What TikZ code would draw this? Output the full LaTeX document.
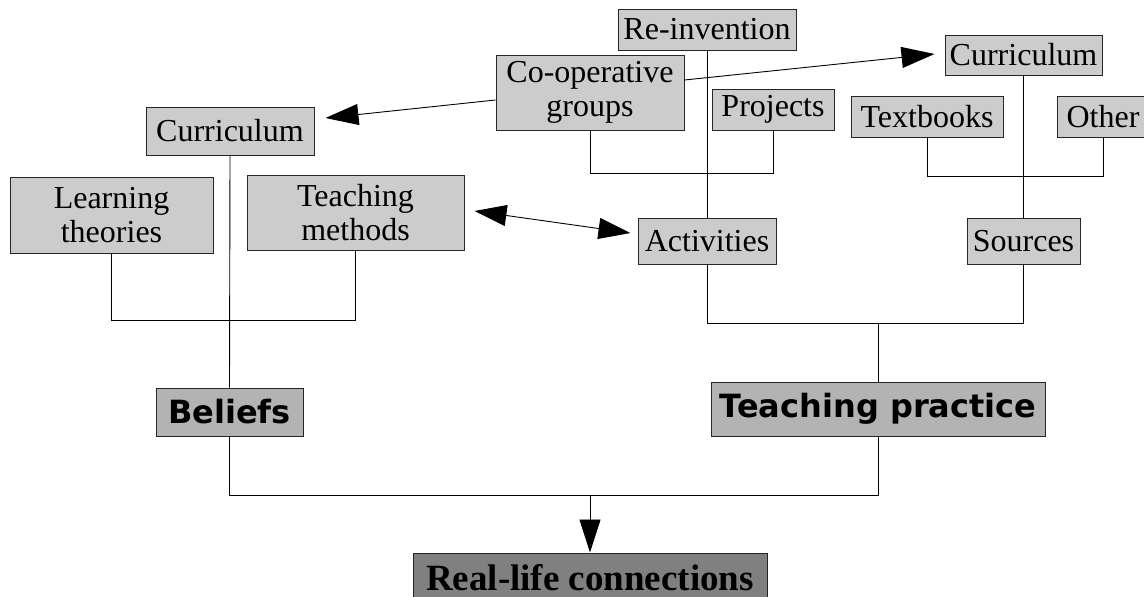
\documentclass[tikz,border=0pt]{standalone}
\usepackage{fontspec}
\setmainfont{Liberation Serif}
\newfontfamily\heavysans{DejaVu Sans}
\usetikzlibrary{arrows.meta}
\definecolor{boxlight}{HTML}{CCCCCC}
\definecolor{boxmid}{HTML}{B3B3B3}
\definecolor{boxdark}{HTML}{808080}
\begin{document}
\begin{tikzpicture}[x=1pt,y=-1pt,
  box/.style={draw=black!85, line width=1pt, fill=boxlight, inner sep=0pt, align=center,
    font=\fontsize{32}{34}\selectfont},
  midbox/.style={box, fill=boxmid, font=\heavysans\bfseries\fontsize{32}{36}\selectfont},
  darkbox/.style={box, fill=boxdark, font=\bfseries\fontsize{37}{40}\selectfont},
  conn/.style={draw=black, line width=0.9pt},
  bigarrow/.style={conn, -{Triangle[length=33pt,width=21pt]}},
  dblarrow/.style={conn, {Triangle[length=32pt,width=21pt]}-{Triangle[length=32pt,width=21pt]}}
]
\useasboundingbox (0,0) rectangle (1144,597);

% nodes
\node[box, minimum width=178pt, minimum height=41pt] (reinv) at (707,29.5) {Re-invention};
\node[box, minimum width=188pt, minimum height=75pt] (coop) at (590,92.5) {Co-operative\\groups};
\node[box, minimum width=122pt, minimum height=41pt] (proj) at (773,109.5) {Projects};
\node[box, minimum width=157pt, minimum height=40pt] (curR) at (1023.5,55) {Curriculum};
\node[box, minimum width=152pt, minimum height=41pt] (textb) at (927,116.5) {Textbooks};
\node[box, minimum width=92pt, minimum height=41pt] (other) at (1103,116.5) {Other};
\node[box, minimum width=168pt, minimum height=48pt] (curL) at (230,131) {Curriculum};
\node[box, minimum width=203pt, minimum height=76pt] (learn) at (111.5,215) {Learning\\theories};
\node[box, minimum width=217pt, minimum height=75pt] (teachm) at (355.5,212.5) {Teaching\\methods};
\node[box, minimum width=138pt, minimum height=46pt] (act) at (707,241) {Activities};
\node[box, minimum width=113pt, minimum height=46pt] (src) at (1023.5,241) {Sources};
\node[midbox, minimum width=147pt, minimum height=48pt] (bel) at (229.5,412) {Beliefs};
\node[midbox, minimum width=334pt, minimum height=54pt] (tp) at (878,409) {Teaching practice};
\node[darkbox, minimum width=354pt, minimum height=50pt] (real) at (590,578) {Real-life connections};

% junction levels
\coordinate (y1) at (0,173);
\coordinate (y2) at (0,176);
\coordinate (y3) at (0,320);
\coordinate (y4) at (0,323);
\coordinate (y5) at (0,495);

% brackets
\draw[conn] (coop.south) -- (coop.south |- y1) -| (proj.south);
\draw[conn] (reinv.south) -- (act.north);
\draw[conn] (textb.south) -- (textb.south |- y2) -| (other.south);
\draw[conn] (curR.south) -- (src.north);
\draw[conn] (learn.south) -- (learn.south |- y3) -| (teachm.south);
\draw[conn] (curL.south) -- (bel.north);
\draw[conn] (act.south) -- (act.south |- y4) -| (src.south);
\draw[conn] (tp.north |- y4) -- (tp.north);
\draw[conn] (bel.south) -- (bel.south |- y5) -| (tp.south);
\draw[bigarrow] (real.north |- y5) -- (real.north);

% arrows
\draw[bigarrow] ([yshift=-7.5pt]coop.west) -- ([xshift=11pt,yshift=13pt]curL.east);
\draw[bigarrow] ([yshift=12.5pt]coop.east) -- ([xshift=-10pt,yshift=1pt]curR.west);
\draw[dblarrow] ([xshift=10pt,yshift=1.5pt]teachm.east) -- ([xshift=-7pt,yshift=8pt]act.west);
\end{tikzpicture}
\end{document}
